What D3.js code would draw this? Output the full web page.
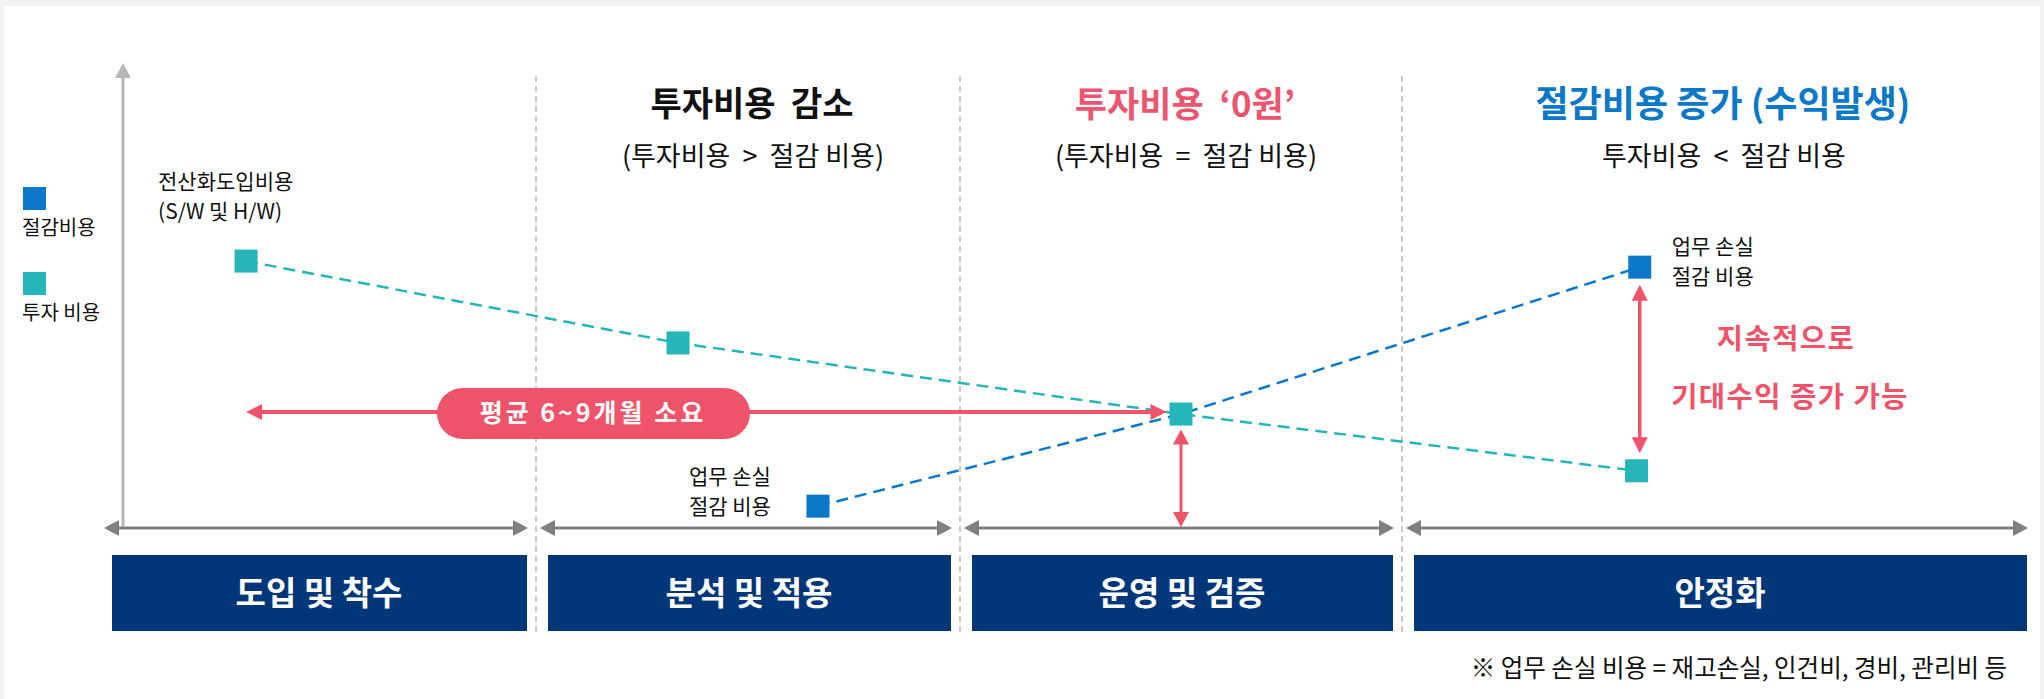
<!DOCTYPE html>
<html>
<head>
<meta charset="utf-8">
<script src="https://cdn.jsdelivr.net/npm/d3@7"></script>
<style>
  html, body { margin: 0; padding: 0; background: #f2f2f2; }
  svg text { font-family: "Noto Sans CJK KR", "Noto Sans", sans-serif; white-space: pre; }
</style>
</head>
<body>
<div id="chart"></div>
<script>
// phases along the time axis
var phaseNames = ["도입 및 착수", "분석 및 적용", "운영 및 검증", "안정화"];
var phaseTitles = ["", "투자비용  감소", "투자비용  ‘0원’", "절감비용 증가 (수익발생)"];
var phaseSubtitles = ["", "(투자비용  >  절감 비용)", "(투자비용  =  절감 비용)", "투자비용  <  절감 비용"];

// series: x in phase units, y in relative cost level (0-100)
var investX = [0.335, 1.335, 2.5, 3.37];
var investY = [57.4, 39.8, 24.5, 12.3];
var savingX = [1.665, 2.5, 3.375];
var savingY = [4.7, 24.5, 56.1];

var legendNames = ["절감비용", "투자 비용"];
var pillText = "평균 6~9개월 소요";
var noteLines = ["지속적으로", "기대수익 증가 가능"];
var footnote = "※ 업무 손실 비용 = 재고손실, 인건비, 경비, 관리비 등";

var width = 2044, height = 699;
var teal = "#26b5b9", blue = "#0b78c9", red = "#ee5369", navy = "#013679";
var axisGray = "#808080";

var x = d3.scaleLinear()
    .domain([0, 1, 2, 3, 4])
    .range([100, 536, 960, 1402, 2036]);

var y = d3.scaleLinear()
    .domain([0, 100])
    .range([528, 63]);

var svg = d3.select("#chart")
    .append("svg")
    .attr("width", width)
    .attr("height", height);

svg.append("rect")
    .attr("x", 4).attr("y", 6)
    .attr("width", 2036).attr("height", 693)
    .attr("fill", "#ffffff");

// draws a line with triangle heads (at end, optionally at start)
function arrow(g, x1, y1, x2, y2, color, sw, len, half, both) {
    var dx = x2 - x1, dy = y2 - y1;
    var L = Math.sqrt(dx * dx + dy * dy);
    var ux = dx / L, uy = dy / L;
    var sx = both ? x1 + ux * (len - 1) : x1;
    var sy = both ? y1 + uy * (len - 1) : y1;
    g.append("line")
        .attr("x1", sx).attr("y1", sy)
        .attr("x2", x2 - ux * (len - 1)).attr("y2", y2 - uy * (len - 1))
        .attr("stroke", color)
        .attr("stroke-width", sw);
    function head(tx, ty, vx, vy) {
        var bx = tx - vx * len, by = ty - vy * len;
        var pts = [[tx, ty], [bx - vy * half, by + vx * half], [bx + vy * half, by - vx * half]];
        g.append("polygon")
            .attr("points", pts.map(function(p) { return p.join(","); }).join(" "))
            .attr("fill", color);
    }
    head(x2, y2, ux, uy);
    if (both) head(x1, y1, -ux, -uy);
}

// phase dividers
svg.selectAll(".divider")
    .data([1, 2, 3])
    .enter()
    .append("line")
    .attr("class", "divider")
    .attr("x1", function(d) { return x(d); })
    .attr("x2", function(d) { return x(d); })
    .attr("y1", 76)
    .attr("y2", 632)
    .attr("stroke", "#b9baa9")
    .attr("stroke-width", 1.5)
    .attr("stroke-dasharray", "6,4");

// y axis
var axes = svg.append("g");
arrow(axes, x(0) + 23, y(0), x(0) + 23, y(100), "#b5b8bb", 3, 15, 8, false);

// time axis, one double arrow per phase
phaseNames.forEach(function(name, i) {
    arrow(axes, x(i) + 4, y(0), x(i + 1) - 8, y(0), axisGray, 3, 15, 8, true);
});

// phase boxes
var boxes = svg.selectAll(".phase")
    .data(phaseNames)
    .enter()
    .append("g")
    .attr("class", "phase");

boxes.append("rect")
    .attr("x", function(d, i) { return x(i) + 12; })
    .attr("y", 555)
    .attr("width", function(d, i) { return x(i + 1) - x(i) - 21; })
    .attr("height", 76)
    .attr("fill", navy);

boxes.append("text")
    .attr("x", function(d, i) { return (x(i) + x(i + 1)) / 2 + 1; })
    .attr("y", 593)
    .attr("dy", "0.36em")
    .attr("text-anchor", "middle")
    .attr("font-size", 33)
    .attr("font-weight", 700)
    .attr("fill", "#ffffff")
    .text(function(d) { return d; });

// phase headings
var heads = svg.selectAll(".head")
    .data(phaseTitles)
    .enter()
    .filter(function(d) { return d !== ""; })
    .append("g")
    .attr("class", "head");

heads.append("text")
    .attr("x", function(d, i) { return (x(i + 1) + x(i + 2)) / 2 + 4; })
    .attr("y", 104)
    .attr("dy", "0.36em")
    .attr("text-anchor", "middle")
    .attr("font-size", function(d, i) { return [34, 35, 36][i]; })
    .attr("font-weight", 700)
    .attr("fill", function(d, i) { return ["#111111", "#ec5570", blue][i]; })
    .text(function(d) { return d; });

heads.append("text")
    .attr("x", function(d, i) { return (x(i + 1) + x(i + 2)) / 2 + 5; })
    .attr("y", 156)
    .attr("dy", "0.36em")
    .attr("text-anchor", "middle")
    .attr("font-size", 27)
    .attr("fill", "#111111")
    .text(function(d, i) { return phaseSubtitles[i + 1]; });

// dashed series lines
var line = d3.line()
    .x(function(d) { return x(d[0]); })
    .y(function(d) { return y(d[1]); });

var investPts = d3.zip(investX, investY);
var savingPts = d3.zip(savingX, savingY);

svg.append("path")
    .attr("d", line(investPts))
    .attr("fill", "none")
    .attr("stroke", teal)
    .attr("stroke-width", 2.5)
    .attr("stroke-dasharray", "12,7");

svg.append("path")
    .attr("d", line(savingPts))
    .attr("fill", "none")
    .attr("stroke", blue)
    .attr("stroke-width", 2.5)
    .attr("stroke-dasharray", "12,7");

// red annotations
var ann = svg.append("g");
var sq = 23;
var cross = investPts[2];
arrow(ann, x(investX[0]), y(cross[1]) - 2, x(cross[0]) - sq / 2 - 3, y(cross[1]) - 2, red, 4, 16, 8, true);
arrow(ann, x(cross[0]), y(cross[1]) + sq / 2 + 4, x(cross[0]), y(0) - 1, red, 3, 15, 8, true);
arrow(ann, x(savingX[2]), y(savingY[2]) + sq / 2 + 6, x(savingX[2]), y(investY[3]) - sq / 2 - 6, red, 3.5, 16, 8, true);

ann.append("rect")
    .attr("x", 437).attr("y", 388)
    .attr("width", 313).attr("height", 51)
    .attr("rx", 25.5)
    .attr("fill", red);

ann.append("text")
    .attr("x", 593).attr("y", 413)
    .attr("dy", "0.36em")
    .attr("text-anchor", "middle")
    .attr("font-size", 25)
    .attr("font-weight", 700)
    .attr("letter-spacing", 3)
    .attr("fill", "#ffffff")
    .text(pillText);

ann.selectAll(".note")
    .data(noteLines)
    .enter()
    .append("text")
    .attr("class", "note")
    .attr("x", function(d, i) { return [1786, 1790][i]; })
    .attr("y", function(d, i) { return [339, 397][i]; })
    .attr("dy", "0.36em")
    .attr("text-anchor", "middle")
    .attr("font-size", 28.5)
    .attr("font-weight", 700)
    .attr("letter-spacing", 1.5)
    .attr("fill", red)
    .text(function(d) { return d; });

// square markers
svg.selectAll(".invest")
    .data(investPts)
    .enter()
    .append("rect")
    .attr("class", "invest")
    .attr("x", function(d) { return x(d[0]) - sq / 2; })
    .attr("y", function(d) { return y(d[1]) - sq / 2; })
    .attr("width", sq).attr("height", sq)
    .attr("fill", teal);

svg.selectAll(".saving")
    .data(savingPts.filter(function(d, i) { return i !== 1; }))
    .enter()
    .append("rect")
    .attr("class", "saving")
    .attr("x", function(d) { return x(d[0]) - sq / 2; })
    .attr("y", function(d) { return y(d[1]) - sq / 2; })
    .attr("width", sq).attr("height", sq)
    .attr("fill", blue);

// point labels
function label(lines, px, py, dx, dys) {
    lines.forEach(function(t, i) {
        svg.append("text")
            .attr("x", px + dx)
            .attr("y", py + dys[i])
            .attr("dy", "0.36em")
            .attr("font-size", 21)
            .attr("fill", "#111111")
            .text(t);
    });
}
label(["전산화도입비용", "(S/W 및 H/W)"], x(investX[0]), y(investY[0]), -88, [-80, -50]);
label(["업무 손실", "절감 비용"], x(savingX[0]), y(savingY[0]), -129, [-30, 0]);
label(["업무 손실", "절감 비용"], x(savingX[2]), y(savingY[2]), 32, [-21, 9]);

// legend
var legend = svg.selectAll(".legend")
    .data(legendNames)
    .enter()
    .append("g")
    .attr("class", "legend")
    .attr("transform", function(d, i) { return "translate(23," + (187 + i * 85) + ")"; });

legend.append("rect")
    .attr("width", sq).attr("height", sq)
    .attr("fill", function(d, i) { return [blue, teal][i]; });

legend.append("text")
    .attr("x", -1)
    .attr("y", 41)
    .attr("dy", "0.36em")
    .attr("font-size", 20)
    .attr("fill", "#111111")
    .text(function(d) { return d; });

// footnote
svg.append("text")
    .attr("x", 2007)
    .attr("y", 668)
    .attr("dy", "0.36em")
    .attr("text-anchor", "end")
    .attr("font-size", 24.5)
    .attr("fill", "#111111")
    .text(footnote);
</script>
</body>
</html>
